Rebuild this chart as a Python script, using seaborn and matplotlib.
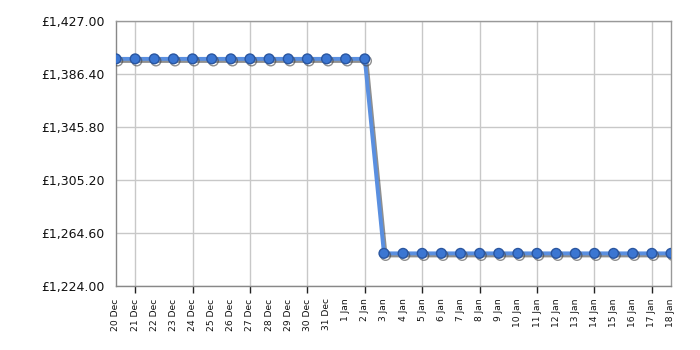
import matplotlib
matplotlib.use("Agg")
import matplotlib.pyplot as plt
import matplotlib.dates as mdates
import matplotlib.patheffects as pe
import matplotlib.ticker as mticker
import seaborn as sns
import pandas as pd
import numpy as np

# Data
dates = pd.date_range("2023-12-20", "2024-01-18", freq="D")
prices = [1397.99] * 14 + [1249.00] * 16
y_ticks = [1224.00, 1264.60, 1305.20, 1345.80, 1386.40, 1427.00]

df = pd.DataFrame({"date": dates, "price": prices})

sns.set_style("white")
plt.rcParams['font.family'] = ['DejaVu Sans']

fig = plt.figure(figsize=(7, 3.5), dpi=100)
ax = fig.add_axes([116/700, 1-286/350, (671-116)/700, (286-21)/350])

sns.lineplot(data=df, x="date", y="price", ax=ax, color="#5a8fe0", linewidth=2.8,
             marker="o", markersize=7, markerfacecolor="#3b76d2",
             markeredgecolor="#2a56a0", markeredgewidth=1, zorder=3,
             path_effects=[pe.SimpleLineShadow(offset=(1.2, -1.5), shadow_color="#444444", alpha=0.6),
                           pe.Normal()])

ax.set_xlim(dates[0], dates[-1])
ax.set_ylim(y_ticks[0], y_ticks[-1])
ax.set_yticks(y_ticks)
ax.yaxis.set_major_formatter(mticker.FuncFormatter(lambda v, p: f"£{v:,.2f}"))

ax.set_xticks(mdates.date2num(dates))
ax.xaxis.set_major_formatter(mdates.DateFormatter("%-d %b"))
ax.tick_params(axis="x", which="major", length=5, width=1, color="#222222",
               labelsize=6.6, labelrotation=90, pad=4, labelcolor="#111111")
ax.tick_params(axis="y", which="major", length=5, width=1, color="#222222", labelsize=9, pad=3, labelcolor="#111111")

ax.grid(True, axis="y", which="major", color="#c8c8c8", linewidth=1)
ax.grid(True, axis="x", which="major", color="#c8c8c8", linewidth=1)
ax.set_axisbelow(True)

for i, t in enumerate(ax.xaxis.get_major_ticks()):
    show = (i % 3 == 1)
    t.tick1line.set_visible(show)
    t.gridline.set_visible(show)

for s in ax.spines.values():
    s.set_color("#999999")
    s.set_linewidth(1)
ax.spines["left"].set_color("#888888")
ax.spines["bottom"].set_color("#888888")

ax.set_xlabel("")
ax.set_ylabel("")

fig.savefig("out.png", dpi=100)
